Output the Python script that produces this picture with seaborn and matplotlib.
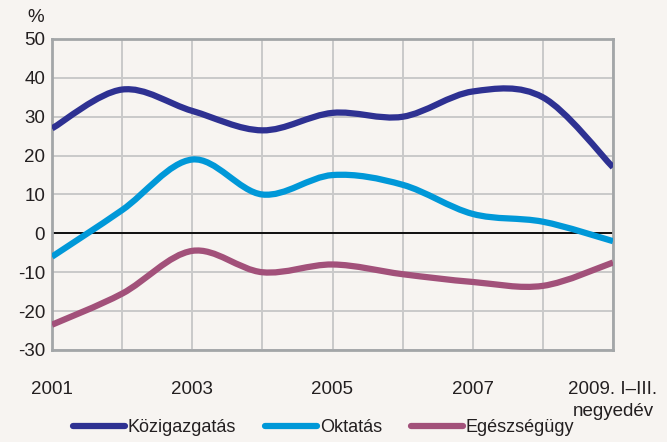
import numpy as np
import pandas as pd
import matplotlib
matplotlib.use("Agg")
import matplotlib.pyplot as plt
import seaborn as sns
from matplotlib.path import Path
from matplotlib.patches import PathPatch
from matplotlib.lines import Line2D

years = [2001, 2002, 2003, 2004, 2005, 2006, 2007, 2008, 2009]
kozigazgatas = [27, 37, 31.5, 26.5, 31, 30, 36.5, 35, 17]
oktatas = [-6, 6, 19, 10, 15, 12.5, 5, 3, -2]
egeszsegugy = [-23.5, -15.5, -4.5, -10, -8, -10.5, -12.5, -13.5, -7.5]

tick_years = [2001, 2003, 2005, 2007, 2009]
tick_labels = ["2001", "2003", "2005", "2007", "2009. I–III.\nnegyedév"]

series = {
    "Közigazgatás": kozigazgatas,
    "Oktatás": oktatas,
    "Egészségügy": egeszsegugy,
}
colors = {
    "Közigazgatás": "#2E3192",
    "Oktatás": "#0098D8",
    "Egészségügy": "#A2517A",
}

df = pd.DataFrame({"year": years, **series}).melt(
    id_vars="year", var_name="sector", value_name="value"
)

bg = "#F7F4F1"
sns.set_style("white")
plt.rcParams["font.family"] = ["Liberation Sans", "DejaVu Sans"]
plt.rcParams["axes.unicode_minus"] = False

fig = plt.figure(figsize=(6.67, 4.42), dpi=100, facecolor=bg)
ax = fig.add_axes([52 / 667, 92 / 442, 561 / 667, 311 / 442])
ax.set_facecolor(bg)


def smooth_path(x, y):
    # excel-style smoothed line: catmull-rom segments as cubic beziers
    x = np.asarray(x, float)
    y = np.asarray(y, float)
    px = np.concatenate([[x[0]], x, [x[-1]]])
    py = np.concatenate([[y[0]], y, [y[-1]]])
    verts = [(x[0], y[0])]
    codes = [Path.MOVETO]
    for i in range(1, len(x)):
        c1 = (px[i] + (px[i + 1] - px[i - 1]) / 6, py[i] + (py[i + 1] - py[i - 1]) / 6)
        c2 = (px[i + 1] - (px[i + 2] - px[i]) / 6, py[i + 1] - (py[i + 2] - py[i]) / 6)
        verts += [c1, c2, (px[i + 1], py[i + 1])]
        codes += [Path.CURVE4] * 3
    return Path(verts, codes)


# invisible seaborn pass keeps the axes on the data scales
sns.lineplot(data=df, x="year", y="value", hue="sector", palette=colors,
             ax=ax, legend=False, linewidth=0)

for name, vals in series.items():
    sub = df[df.sector == name]
    ax.add_patch(PathPatch(smooth_path(sub.year, sub.value), facecolor="none",
                           edgecolor=colors[name], lw=4.5, capstyle="butt",
                           zorder=3))

ax.axhline(0, color="black", lw=1.3, zorder=2)

ax.set_xlim(2001, 2009)
ax.set_ylim(-30, 50)
ax.set_yticks(range(-30, 51, 10))
ax.grid(True, color="#C9C9C9", lw=1.4, zorder=0)
ax.set_axisbelow(True)

ax.set_xticks(years)
ax.set_xticklabels([tick_labels[tick_years.index(y)] if y in tick_years else "" for y in years])
ax.tick_params(axis="both", length=0, labelsize=13.5, colors="#231F20")
ax.tick_params(axis="x", pad=22)
ax.tick_params(axis="y", pad=5)
for lab in ax.get_xticklabels():
    lab.set_verticalalignment("top")
    lab.set_linespacing(1.45)

for s in ax.spines.values():
    s.set_color("#A3A6A8")
    s.set_linewidth(2)
    s.set_visible(True)

ax.set_xlabel("")
ax.set_ylabel("")
fig.text(36 / 667, 1 - 17 / 442, "%", fontsize=13.5, ha="center", va="center",
         color="#231F20")

handles = [Line2D([0], [0], color=colors[n], lw=4.5, solid_capstyle="round", label=n)
           for n in series]
fig.legend(handles=handles, loc="center", bbox_to_anchor=(0.485, 1 - 428 / 442),
           ncol=3, frameon=False, fontsize=13, handlelength=2.9,
           handletextpad=0.15, columnspacing=1.6, labelcolor="#231F20")

fig.savefig("out.png", dpi=100, facecolor=bg)
